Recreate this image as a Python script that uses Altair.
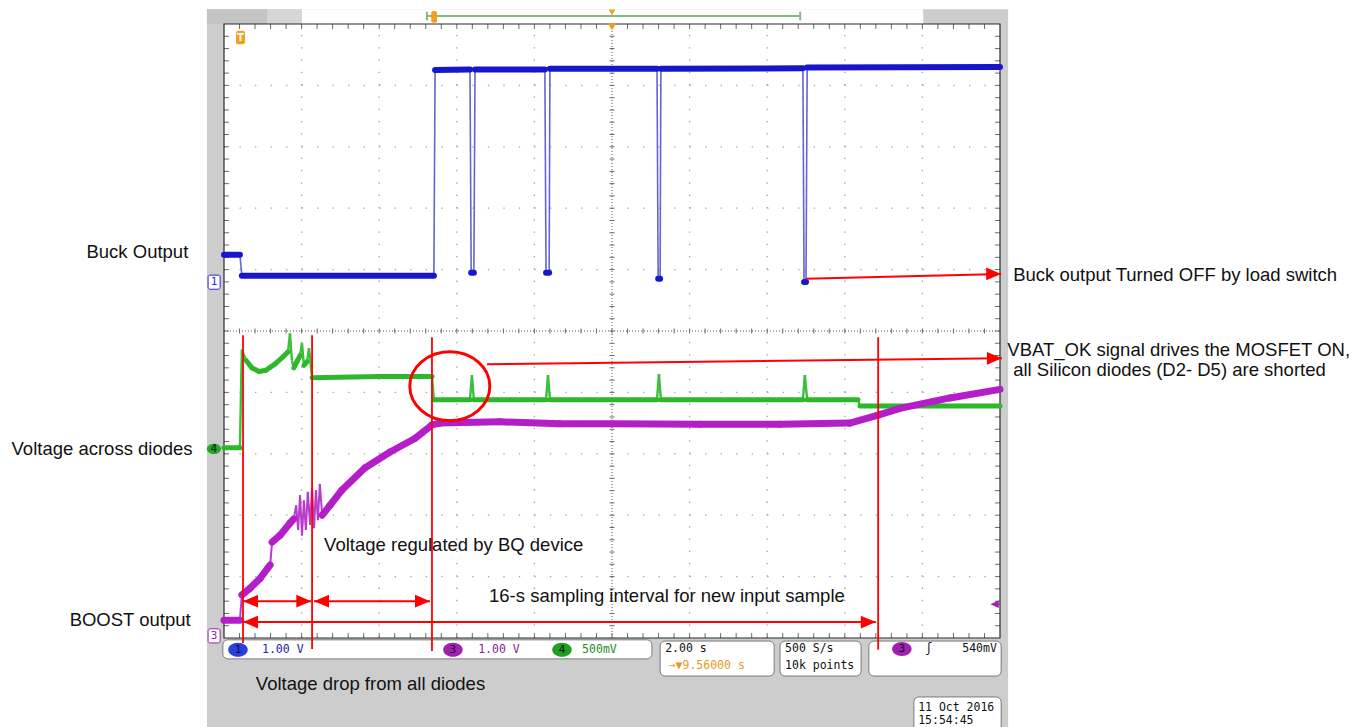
import altair as alt
import pandas as pd

# ---------------------------------------------------------------
# Oscilloscope screen: 10 horizontal div x 2.00 s/div  (t = 0 ... 20 s)
# vertical screen position in divisions (-5 ... +5, 0 = centre line)
# ---------------------------------------------------------------
W, H = 776, 614
T_MIN, T_MAX = 0.0, 20.0
D_MIN, D_MAX = -5.0, 5.0
PX_S = W / (T_MAX - T_MIN)
PX_D = H / (D_MAX - D_MIN)

# channel set-up (V/div from the readout, ground marker position in div)
ch_vdiv = {"ch1": 1.0, "ch4": 0.5, "ch3": 1.0}
ch_ground = {"ch1": 0.80, "ch4": -1.92, "ch3": -4.97}
ch_color = {"ch1": "#1616cc", "ch4": "#2bb82b", "ch3": "#b41ec8"}
ch_edge_color = {"ch1": "#6464d4", "ch4": "#3cc03c", "ch3": "#b83ccc"}
ch_edge_width = {"ch1": 1.6, "ch4": 2.4, "ch3": 2.0}
ch_width = {"ch1": 6, "ch4": 5, "ch3": 7}

# ---- CH1 : Buck output (V) ----
ch1_t = [0.00, 0.41, 0.46, 5.41, 5.44, 6.34, 6.37, 6.44, 6.47, 8.27, 8.30, 8.38, 8.40,
         11.16, 11.19, 11.24, 11.26, 14.92, 14.95, 15.00, 15.03, 20.00]
ch1_v = [0.44, 0.44, 0.10, 0.10, 3.45, 3.46, 0.15, 0.15, 3.46, 3.46, 0.15, 0.15, 3.47,
         3.47, 0.05, 0.05, 3.47, 3.48, 0.00, 0.00, 3.49, 3.50]

# ---- CH4 : voltage across diodes (V) ----
ch4_t = [0.00, 0.41, 0.46, 0.57, 0.72, 0.90, 1.08, 1.31, 1.52, 1.65,
         1.70, 1.75, 1.80, 1.88, 1.96, 2.01, 2.06, 2.14, 2.19, 2.27,
         4.02, 5.36, 5.41, 6.34, 6.39, 6.44, 8.30, 8.35, 8.40, 11.16,
         11.21, 11.26, 14.92, 14.97, 15.03, 16.34, 16.39, 20.00]
ch4_v = [0.01, 0.01, 0.81, 0.72, 0.66, 0.63, 0.64, 0.69, 0.75, 0.79,
         0.94, 0.72, 0.66, 0.71, 0.76, 0.86, 0.68, 0.71, 0.82, 0.58,
         0.59, 0.59, 0.40, 0.40, 0.60, 0.40, 0.40, 0.60, 0.40, 0.40,
         0.61, 0.40, 0.40, 0.60, 0.40, 0.40, 0.35, 0.35]

# ---- CH3 : BOOST output (V) ----
ch3_t = [0.00, 0.41, 0.46, 0.67, 0.93, 1.13, 1.19, 1.24, 1.44, 1.70,
         1.80, 1.86, 1.91, 1.96, 2.01, 2.06, 2.11, 2.16, 2.22, 2.27,
         2.32, 2.37, 2.42, 2.47, 2.53, 2.73, 3.04, 3.63, 4.28, 4.92,
         5.36, 5.57, 7.11, 8.66, 10.00, 12.27, 14.33, 16.13, 16.86, 17.42,
         18.71, 20.00]
ch3_v = [0.26, 0.26, 0.67, 0.78, 0.94, 1.11, 1.16, 1.53, 1.64, 1.84,
         1.91, 2.13, 1.73, 2.30, 1.64, 2.21, 1.73, 2.35, 1.81, 2.41,
         1.76, 2.38, 1.89, 2.48, 1.97, 2.13, 2.38, 2.74, 3.00, 3.22,
         3.44, 3.47, 3.49, 3.46, 3.46, 3.45, 3.45, 3.47, 3.60, 3.71,
         3.88, 4.02]

# ---- red annotations (t in s, y in div) ----
red_vline_t = [0.49, 2.27, 5.36, 16.86]
red_vline_top = [-0.07, -0.07, -0.10, -0.10]
red_vline_bot = [-5.08, -5.18, -5.21, -5.19]

arrow_t1 = [0.49, 2.32, 0.49, 15.00, 6.78]
arrow_y1 = [-4.40, -4.40, -4.74, 0.85, -0.54]
arrow_t2 = [2.25, 5.31, 16.80, 20.03, 20.05]
arrow_y2 = [-4.40, -4.40, -4.74, 0.93, -0.445]
arrow_double = [True, True, True, False, False]

circle_t = [5.82]
circle_y = [-0.90]

# ---- annotation texts ----
note_left_text = ["Buck output Turned OFF by load switch",
                  "VBAT_OK signal drives the MOSFET ON,",
                  "all Silicon diodes (D2- D5) are shorted",
                  "Voltage regulated by BQ device",
                  "16-s sampling interval for new input sample",
                  "Voltage drop from all diodes"]
note_left_t = [20.34, 20.19, 20.34, 2.58, 6.83, 0.82]
note_left_y = [0.92, -0.31, -0.64, -3.49, -4.31, -5.75]

note_right_text = ["Buck Output", "Voltage across diodes", "BOOST output"]
note_right_t = [-0.92, -0.81, -0.86]
note_right_y = [1.29, -1.92, -4.71]

# ---- scope chrome ----
bg_t1 = [-0.44, -0.44, 1.11, 2.01]
bg_t2 = [20.21, 1.11, 2.01, 18.02]
bg_y1 = [5.24, 5.24, 5.24, 5.24]
bg_y2 = [-6.60, 5.00, 5.00, 5.00]
bg_fill = ["#cdcdcd", "#c4c4c4", "#d6d6d6", "#ffffff"]

box_t1 = [-0.03, 11.24, 14.33, 16.62, 17.78]
box_t2 = [11.03, 14.18, 16.42, 20.03, 20.03]
box_y1 = [-5.03, -5.05, -5.05, -5.05, -5.96]
box_y2 = [-5.34, -5.62, -5.62, -5.62, -6.60]

ro_text = ["1.00 V", "1.00 V", "500mV", "2.00 s", "\u2192\u25bc9.56000 s",
           "500 S/s", "10k points", "11 Oct  2016", "15:54:45"]
ro_t = [0.98, 6.55, 9.23, 11.37, 11.46, 14.46, 14.46, 17.89, 17.89]
ro_y = [-5.20, -5.20, -5.20, -5.18, -5.45, -5.18, -5.45, -6.14, -6.35]
ro_color = ["#2222aa", "#8a1e9a", "#1e8c1e", "#111111", "#e79a1c",
            "#111111", "#111111", "#111111", "#111111"]

ro_right_text = ["\u0283", "540mV"]
ro_right_t = [18.25, 19.92]
ro_right_y = [-5.18, -5.18]

badge_text = ["1", "3", "4", "3", "4"]
badge_t = [0.36, 5.90, 8.71, 17.47, -0.26]
badge_y = [-5.19, -5.19, -5.19, -5.18, -1.92]
badge_fill = ["#2a3fe0", "#a020b0", "#1f9f1f", "#a020b0", "#22aa22"]

marker_text = ["1", "3"]
marker_t1 = [-0.41, -0.41]
marker_t2 = [-0.10, -0.10]
marker_y1 = [0.91, -4.85]
marker_y2 = [0.68, -5.08]
marker_color = ["#2a2ad0", "#a020b0"]

# ---------------------------------------------------------------
XS = alt.Scale(domain=[T_MIN, T_MAX], nice=False, zero=False)
YS = alt.Scale(domain=[D_MIN, D_MAX], nice=False, zero=False)


def X(f):
    return alt.X(f, type="quantitative", scale=XS, axis=None)


def Y(f):
    return alt.Y(f, type="quantitative", scale=YS, axis=None)


layers = []

# grey scope background and top bar
bg = pd.DataFrame(dict(t1=bg_t1, t2=bg_t2, y1=bg_y1, y2=bg_y2, fill=bg_fill))
layers.append(alt.Chart(bg).mark_rect().encode(
    x=X("t1"), x2="t2", y=Y("y1"), y2="y2", fill=alt.Fill("fill:N", scale=None)))

# white graticule area
area = pd.DataFrame(dict(t1=[T_MIN], t2=[T_MAX], y1=[D_MIN], y2=[D_MAX]))
layers.append(alt.Chart(area).mark_rect(color="white").encode(
    x=X("t1"), x2="t2", y=Y("y1"), y2="y2"))

# graticule
vg = pd.DataFrame(dict(t=[2, 4, 6, 8, 12, 14, 16, 18], y1=D_MIN, y2=D_MAX))
layers.append(alt.Chart(vg).mark_rule(color="#a0a0a0", strokeWidth=1.3,
                                      strokeDash=[1.3, PX_D / 5 - 1.3]).encode(
    x=X("t"), y=Y("y1"), y2="y2"))
hg = pd.DataFrame(dict(y=[-4, -3, -2, -1, 1, 2, 3, 4], t1=T_MIN, t2=T_MAX))
layers.append(alt.Chart(hg).mark_rule(color="#a0a0a0", strokeWidth=1.3,
                                      strokeDash=[1.3, PX_S * 2 / 5 - 1.3]).encode(
    y=Y("y"), x=X("t1"), x2="t2"))
cl = pd.DataFrame(dict(t1=[10.0, T_MIN], t2=[10.0, T_MAX], y1=[D_MIN, 0.0], y2=[D_MAX, 0.0]))
layers.append(alt.Chart(cl).mark_rule(color="#555555", strokeWidth=1,
                                      strokeDash=[1, 2]).encode(
    x=X("t1"), x2="t2", y=Y("y1"), y2="y2"))

# minor ticks on centre lines and edges
tk_px = 5.0
tk_s = tk_px / PX_S
tk_d = tk_px / PX_D
ticks = []
for k in range(1, 50):
    t = k * 0.4
    ticks.append((t, t, -tk_d / 2, tk_d / 2))
    ticks.append((t, t, D_MAX - tk_d, D_MAX))
    ticks.append((t, t, D_MIN, D_MIN + tk_d))
for k in range(-24, 25):
    d = k * 0.2
    ticks.append((10 - tk_s / 2, 10 + tk_s / 2, d, d))
    ticks.append((T_MIN, T_MIN + tk_s, d, d))
    ticks.append((T_MAX - tk_s, T_MAX, d, d))
tkdf = pd.DataFrame(ticks, columns=["t1", "t2", "y1", "y2"])
layers.append(alt.Chart(tkdf).mark_rule(color="#6a6a6a", strokeWidth=1).encode(
    x=X("t1"), x2="t2", y=Y("y1"), y2="y2"))

# graticule border
layers.append(alt.Chart(area).mark_rect(fillOpacity=0, stroke="#2a2a2a", strokeWidth=1.2).encode(
    x=X("t1"), x2="t2", y=Y("y1"), y2="y2"))

# traces, split into fast edges (thin) and noisy bodies (thick)
rows = []
for ch, ts, vs in [("ch1", ch1_t, ch1_v), ("ch4", ch4_t, ch4_v), ("ch3", ch3_t, ch3_v)]:
    ys = [ch_ground[ch] + v / ch_vdiv[ch] for v in vs]
    for i in range(len(ts) - 1):
        dx = abs(ts[i + 1] - ts[i]) * PX_S
        dy = abs(ys[i + 1] - ys[i]) * PX_D
        steep = dy > 2.5 * dx and dy > 6
        rows.append(dict(ch=ch, t1=ts[i], t2=ts[i + 1], y1=ys[i], y2=ys[i + 1],
                         kind="edge" if steep else "body",
                         color=ch_color[ch], ecolor=ch_edge_color[ch],
                         ew=ch_edge_width[ch], w=ch_width[ch]))
seg = pd.DataFrame(rows)
layers.append(alt.Chart(seg[seg.kind == "edge"]).mark_rule().encode(
    x=X("t1"), x2="t2", y=Y("y1"), y2="y2", color=alt.Color("ecolor:N", scale=None),
    strokeWidth=alt.StrokeWidth("ew:Q", scale=None)))
layers.append(alt.Chart(seg[seg.kind == "body"]).mark_rule(strokeCap="round").encode(
    x=X("t1"), x2="t2", y=Y("y1"), y2="y2", color=alt.Color("color:N", scale=None),
    strokeWidth=alt.StrokeWidth("w:Q", scale=None)))

# top bar: record line, markers
topline = pd.DataFrame(dict(t1=[5.23, 5.23, 14.85], t2=[14.85, 5.23, 14.85],
                            y1=[5.13, 5.06, 5.06], y2=[5.13, 5.20, 5.20]))
layers.append(alt.Chart(topline).mark_rule(color="#7cbf7c", strokeWidth=2).encode(
    x=X("t1"), x2="t2", y=Y("y1"), y2="y2"))
orect = pd.DataFrame(dict(t1=[5.34, 0.31, 11.27], t2=[5.49, 0.54, 11.44],
                          y1=[5.21, 4.89, -5.34], y2=[5.02, 4.67, -5.56]))
layers.append(alt.Chart(orect).mark_rect(color="#f0a020", cornerRadius=2).encode(
    x=X("t1"), x2="t2", y=Y("y1"), y2="y2"))
otxt = pd.DataFrame(dict(t=[0.425, 11.355], y=[4.78, -5.45], s=["T", "T"]))
layers.append(alt.Chart(otxt).mark_text(color="white", font="DejaVu Sans", fontSize=10,
                                        fontWeight="bold", align="center", baseline="middle").encode(
    x=X("t"), y=Y("y"), text="s:N"))
otri = pd.DataFrame(dict(t=[10.0, 10.0], y=[5.19, 4.955], size=[45, 70]))
layers.append(alt.Chart(otri).mark_point(shape="triangle-down", filled=True, color="#f0a020",
                                         opacity=1).encode(
    x=X("t"), y=Y("y"), size=alt.Size("size:Q", scale=None)))

# trigger level marker (purple) at right edge
tl = pd.DataFrame(dict(t1=[19.86], t2=[20.0], y=[-4.45]))
layers.append(alt.Chart(tl).mark_rule(color="#a020b0", strokeWidth=1.5).encode(
    x=X("t1"), x2="t2", y=Y("y")))
layers.append(alt.Chart(tl).mark_point(shape="M-1,0 L1,-0.9 L1,0.9 Z", filled=True, size=70,
                                       color="#a020b0", opacity=1).encode(
    x=X("t1"), y=Y("y")))

# readout boxes
bx = pd.DataFrame(dict(t1=box_t1, t2=box_t2, y1=box_y1, y2=box_y2))
layers.append(alt.Chart(bx).mark_rect(fill="white", stroke="#7a7a7a", strokeWidth=1,
                                      cornerRadius=5).encode(
    x=X("t1"), x2="t2", y=Y("y1"), y2="y2"))

# channel markers at the left edge
mk = pd.DataFrame(dict(t1=marker_t1, t2=marker_t2, y1=marker_y1, y2=marker_y2,
                       c=marker_color, s=marker_text,
                       tm=[(a + b) / 2 for a, b in zip(marker_t1, marker_t2)],
                       ym=[(a + b) / 2 for a, b in zip(marker_y1, marker_y2)]))
layers.append(alt.Chart(mk).mark_rect(fill="white", strokeWidth=1, cornerRadius=2).encode(
    x=X("t1"), x2="t2", y=Y("y1"), y2="y2", stroke=alt.Stroke("c:N", scale=None)))
layers.append(alt.Chart(mk).mark_text(font="DejaVu Sans Mono", fontSize=11,
                                      align="center", baseline="middle").encode(
    x=X("tm"), y=Y("ym"), text="s:N", color=alt.Color("c:N", scale=None)))

# coloured channel badges
bd = pd.DataFrame(dict(t=badge_t, y=badge_y, f=badge_fill, s=badge_text,
                       size=[380, 380, 380, 380, 200]))
layers.append(alt.Chart(bd).mark_point(shape="M-1,0 A1,0.72 0 1,1 1,0 A1,0.72 0 1,1 -1,0 Z",
                                       filled=True, opacity=1).encode(
    x=X("t"), y=Y("y"), color=alt.Color("f:N", scale=None),
    size=alt.Size("size:Q", scale=None)))
layers.append(alt.Chart(bd).mark_text(font="DejaVu Sans Mono", fontSize=11, color="#10102a",
                                      align="center", baseline="middle").encode(
    x=X("t"), y=Y("y"), text="s:N"))

# readout texts
ro = pd.DataFrame(dict(t=ro_t, y=ro_y, s=ro_text, c=ro_color))
layers.append(alt.Chart(ro).mark_text(font="DejaVu Sans Mono", fontSize=11.5,
                                      align="left", baseline="middle").encode(
    x=X("t"), y=Y("y"), text="s:N", color=alt.Color("c:N", scale=None)))
ror = pd.DataFrame(dict(t=ro_right_t, y=ro_right_y, s=ro_right_text))
layers.append(alt.Chart(ror).mark_text(font="DejaVu Sans Mono", fontSize=11.5, color="#111111",
                                       align="right", baseline="middle").encode(
    x=X("t"), y=Y("y"), text="s:N"))

# red annotation lines
vl = pd.DataFrame(dict(t=red_vline_t, y1=red_vline_top, y2=red_vline_bot))
layers.append(alt.Chart(vl).mark_rule(color="#ff0000", strokeWidth=1.8).encode(
    x=X("t"), y=Y("y1"), y2="y2"))
ar = pd.DataFrame(dict(t1=arrow_t1, t2=arrow_t2, y1=arrow_y1, y2=arrow_y2))
layers.append(alt.Chart(ar).mark_rule(color="#ff0000", strokeWidth=2).encode(
    x=X("t1"), x2="t2", y=Y("y1"), y2="y2"))
head_off = 7.5 / PX_S
rh = pd.DataFrame(dict(t=[b - head_off for b in arrow_t2], y=arrow_y2))
lh = pd.DataFrame(dict(t=[a + head_off for a, d in zip(arrow_t1, arrow_double) if d],
                       y=[y for y, d in zip(arrow_y1, arrow_double) if d]))
layers.append(alt.Chart(rh).mark_point(shape="M1,0 L-1,-0.85 L-1,0.85 Z", filled=True,
                                       size=225, color="#ff0000", opacity=1).encode(
    x=X("t"), y=Y("y")))
layers.append(alt.Chart(lh).mark_point(shape="M-1,0 L1,-0.85 L1,0.85 Z", filled=True,
                                       size=225, color="#ff0000", opacity=1).encode(
    x=X("t"), y=Y("y")))
cc = pd.DataFrame(dict(t=circle_t, y=circle_y))
layers.append(alt.Chart(cc).mark_point(shape="M-1,0 A1,0.86 0 1,1 1,0 A1,0.86 0 1,1 -1,0 Z",
                                       filled=False, size=6400, color="#ff0000",
                                       strokeWidth=3, opacity=1).encode(
    x=X("t"), y=Y("y")))

# annotation texts
nl = pd.DataFrame(dict(t=note_left_t, y=note_left_y, s=note_left_text))
layers.append(alt.Chart(nl).mark_text(font="Liberation Sans", fontSize=18.5, color="#111111",
                                      align="left", baseline="middle").encode(
    x=X("t"), y=Y("y"), text="s:N"))
nr = pd.DataFrame(dict(t=note_right_t, y=note_right_y, s=note_right_text))
layers.append(alt.Chart(nr).mark_text(font="Liberation Sans", fontSize=18.5, color="#111111",
                                      align="right", baseline="middle").encode(
    x=X("t"), y=Y("y"), text="s:N"))

chart = alt.layer(*layers).properties(
    width=W, height=H,
    padding={"left": 224, "top": 24, "right": 368, "bottom": 89},
    autosize=alt.AutoSizeParams(type="none"),
    background="white",
).configure_view(stroke=None)

chart.save("out.html", embed_options={"renderer": "svg", "actions": False})
